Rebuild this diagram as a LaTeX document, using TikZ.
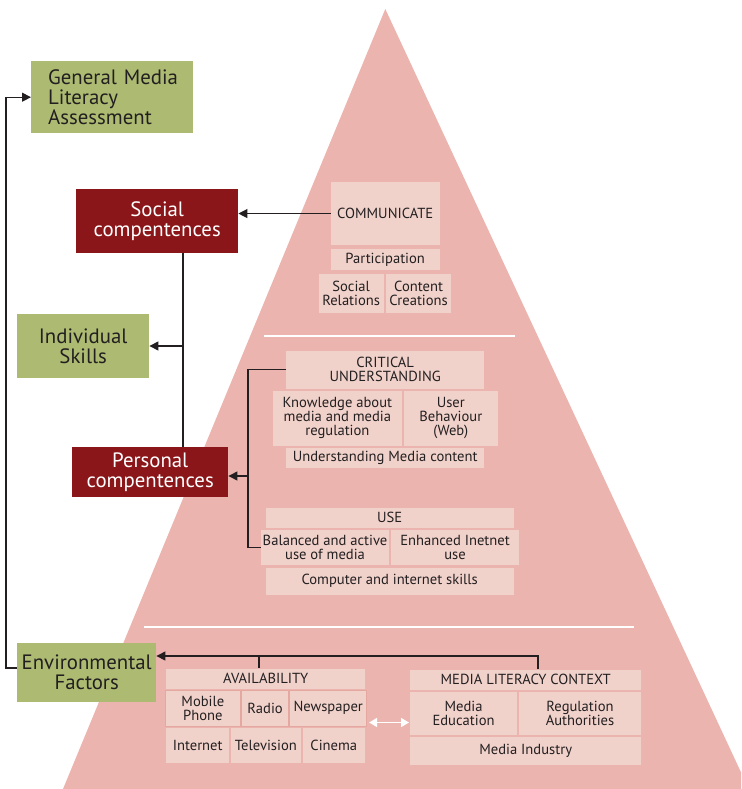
\documentclass[tikz,border=0pt]{standalone}
\usepackage{fontspec}
\setmainfont{PT Sans}
\usetikzlibrary{arrows.meta}
\definecolor{tri}{RGB}{236,180,174}
\definecolor{boxpink}{RGB}{241,210,203}
\definecolor{boxline}{RGB}{228,168,160}
\definecolor{olive}{RGB}{173,187,114}
\definecolor{wine}{RGB}{138,22,25}
\definecolor{ink}{RGB}{35,31,32}
\tikzset{
  inbox/.style={fill=boxpink, draw=none, inner sep=0pt, align=center, anchor=north west, text=ink,
    font=\fontsize{14.6}{14}\selectfont},
  avbox/.style={inbox, draw=boxline, line width=0.8pt},
  greenbox/.style={fill=olive, inner sep=0pt, anchor=north west, text=ink, align=center,
    font=\fontsize{20.8}{20}\selectfont},
  redbox/.style={fill=wine, inner sep=0pt, anchor=north west, text=white, align=center,
    font=\fontsize{20.8}{20}\selectfont},
  conn/.style={draw=ink, line width=1.1pt},
  arr/.style={conn, -{Triangle[length=9pt,width=9pt]}},
  warr/.style={draw=white, line width=1.6pt, {Triangle[length=8pt,width=9pt]}-{Triangle[length=8pt,width=9pt]}},
  sep/.style={draw=white, line width=2pt}
}
\begin{document}
\begin{tikzpicture}[x=1pt,y=-1pt]
\useasboundingbox (0,0) rectangle (741,789);
\clip (0,0) rectangle (741,789);
\fill[tri] (385.3,9) -- (63,789) -- (748.8,789) -- cycle;
\draw[sep] (264,336) -- (515,336);
\draw[sep] (144,627) -- (634,627);

% left column
\node[greenbox, minimum width=162pt, minimum height=72pt, align=left, text width=160pt] (gmla) at (31,61) {\hspace*{16pt}General Media\\\hspace*{16pt}Literacy\\\hspace*{16pt}Assessment};
\node[redbox, minimum width=162pt, minimum height=64pt] (social) at (76,189) {Social\\compentences};
\node[greenbox, minimum width=132pt, minimum height=64pt] (indiv) at (17,314) {Individual\\Skills};
\node[redbox, minimum width=156pt, minimum height=50pt] (personal) at (72,447) {Personal\\compentences};
\node[greenbox, minimum width=139pt, minimum height=59pt] (env) at (17,643) {Environmental\\Factors};

% social section
\node[inbox, minimum width=108.6pt, minimum height=63.3pt] (comm) at (330.7,181.7) {COMMUNICATE};
\node[inbox, minimum width=108.6pt, minimum height=21.7pt] (part) at (330.7,248.3) {Participation};
\node[inbox, minimum width=64.6pt, minimum height=39.4pt] (socrel) at (318.7,273.3) {Social\\Relations};
\node[inbox, minimum width=65.3pt, minimum height=39.4pt] (content) at (385.7,273.3) {Content\\Creations};

% personal section
\node[inbox, minimum width=198pt, minimum height=37.3pt] (crit) at (286,351) {CRITICAL\\UNDERSTANDING};
\node[inbox, minimum width=129pt, minimum height=55pt] (know) at (272.7,390.7) {Knowledge about\\media and media\\regulation};
\node[inbox, minimum width=93.3pt, minimum height=55pt] (user) at (404,390.7) {User\\Behaviour\\(Web)};
\node[inbox, minimum width=198pt, minimum height=20pt] (umc) at (286,447.7) {Understanding Media content};
\node[inbox, minimum width=247.6pt, minimum height=20.4pt] (use) at (265.7,507.3) {USE};
\node[inbox, minimum width=128.3pt, minimum height=35pt] (bal) at (260.7,530) {Balanced and active\\use of media};
\node[inbox, minimum width=128.3pt, minimum height=35pt] (enh) at (390.7,530) {Enhanced Inetnet\\use};
\node[inbox, minimum width=247.6pt, minimum height=27pt] (comp) at (265.7,567.3) {Computer and internet skills};

% availability
\node[inbox, minimum width=199pt, minimum height=20pt] (avail) at (166,668.3) {AVAILABILITY};
\node[avbox, minimum width=74.4pt, minimum height=35.7pt] (mob) at (165.3,690) {Mobile\\Phone};
\node[avbox, minimum width=47.3pt, minimum height=35.7pt] (radio) at (241,690) {Radio};
\node[avbox, minimum width=77pt, minimum height=35.7pt] (news) at (289.3,690) {Newspaper};
\node[inbox, minimum width=63pt, minimum height=35pt] (inet) at (166,727.3) {Internet};
\node[inbox, minimum width=70pt, minimum height=35pt] (tv) at (230.7,727.3) {Television};
\node[inbox, minimum width=62.7pt, minimum height=35pt] (cin) at (302.3,727.3) {Cinema};

% media literacy context
\node[inbox, minimum width=231pt, minimum height=20.7pt] (mlc) at (410,669.3) {MEDIA LITERACY CONTEXT};
\node[inbox, minimum width=106.7pt, minimum height=43.3pt] (medu) at (410,691.7) {Media\\Education};
\node[inbox, minimum width=122.3pt, minimum height=43.3pt] (reg) at (518.7,691.7) {Regulation\\Authorities};
\node[inbox, minimum width=231pt, minimum height=27.6pt] (mind) at (410,736.7) {Media Industry};

% connectors
\draw[arr] (comm.west) -- (comm.west -| social.east);

\coordinate (jn) at (183,346);
\draw[conn] (jn |- social.south) -- (jn |- personal.north);
\draw[arr] (jn) -- (jn -| indiv.east);

\coordinate (pb) at (248,476);
\draw[conn] (crit.west) -- (crit.west -| pb) -- (pb |- bal.west) -- (bal.west);
\draw[arr] (pb) -- (pb -| personal.east);

\coordinate (ej) at (538,656);
\coordinate (aj) at (259,656);
\draw[arr] (ej |- mlc.north) -- (ej) -- (ej -| env.east);
\draw[conn] (aj) -- (aj |- avail.north);

\coordinate (lx) at (6,668);
\draw[arr] (lx -| env.west) -- (lx) -- (lx |- gmla.west) -- (gmla.west);

\coordinate (wa) at (0,722.5);
\draw[warr] ([xshift=2pt]news.east |- wa) -- ([xshift=-1pt]medu.west |- wa);
\end{tikzpicture}
\end{document}
